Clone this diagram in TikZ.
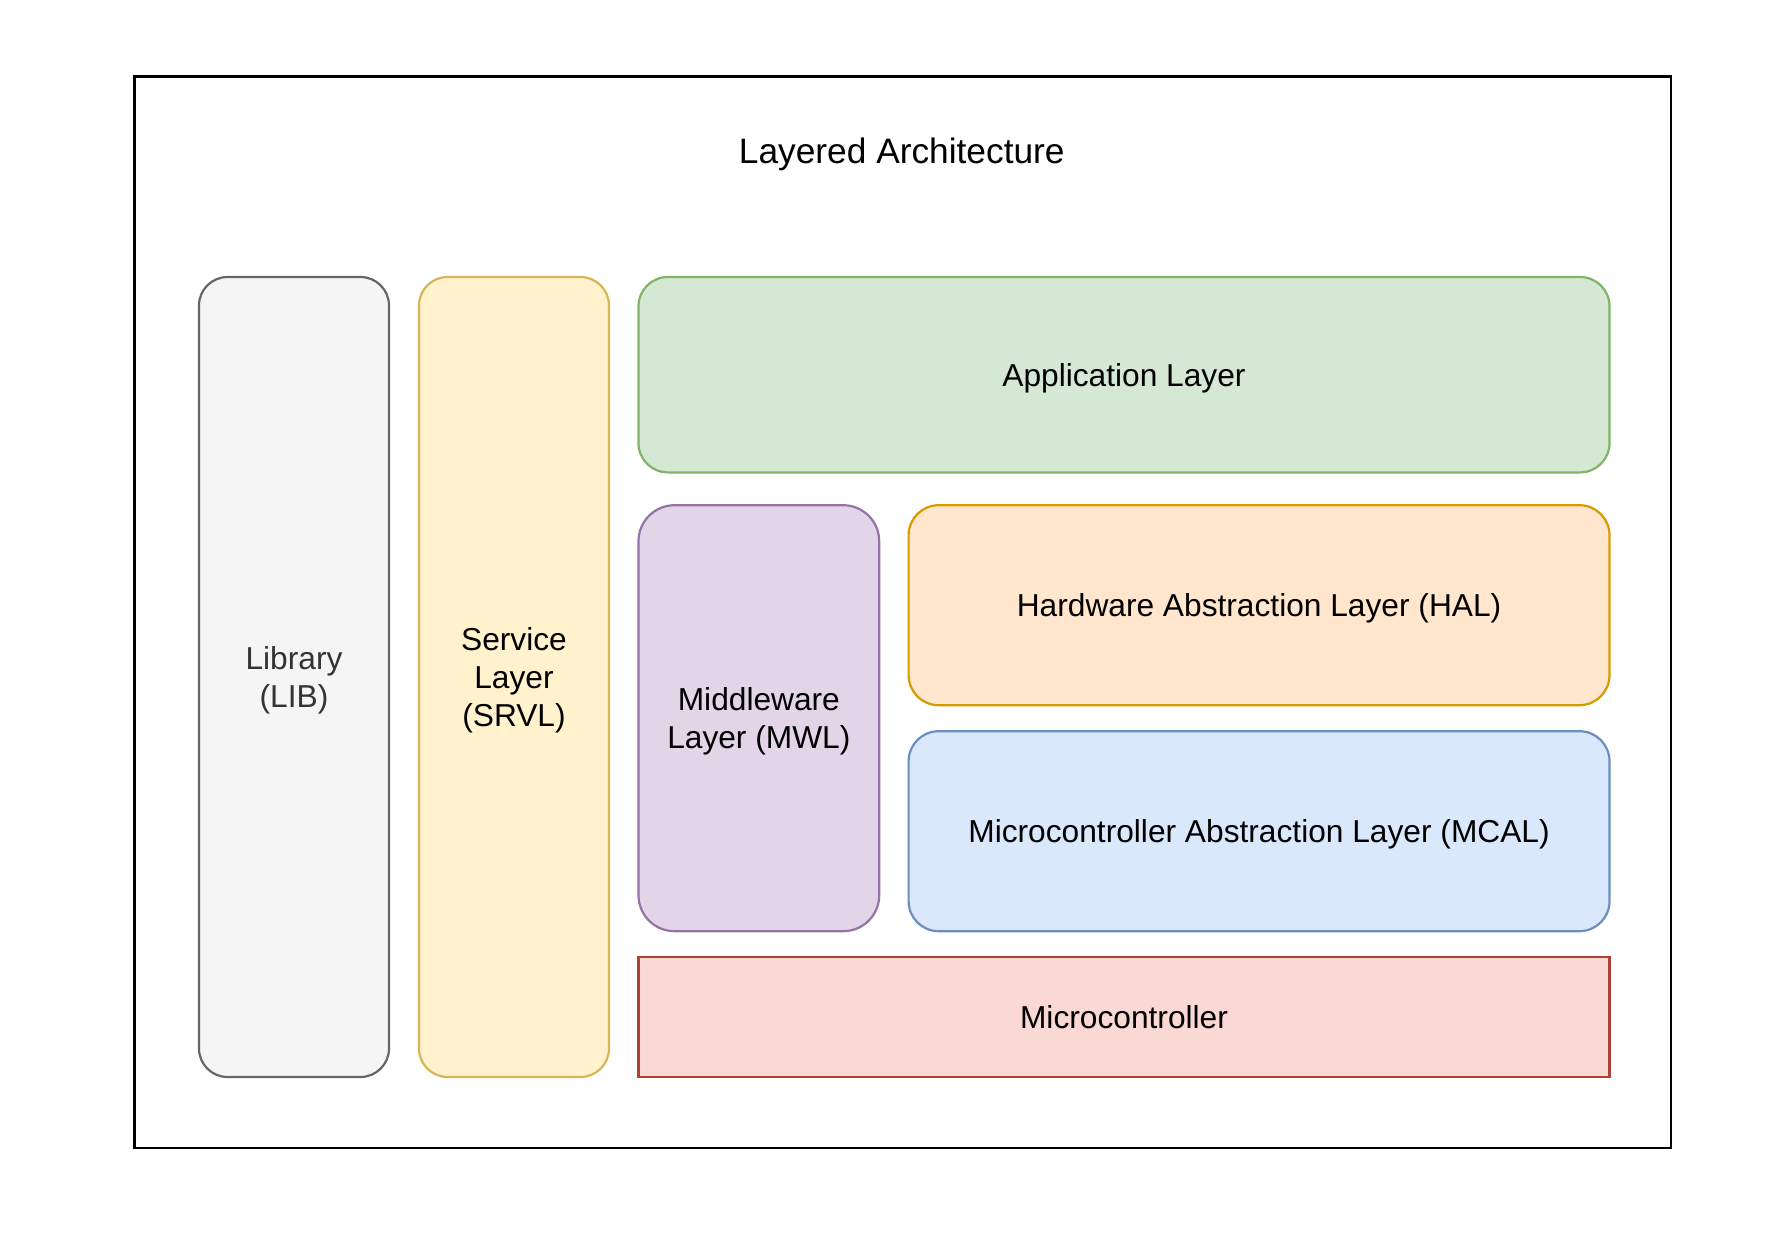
\documentclass[tikz,border=0pt]{standalone}
\usepackage{fontspec}
\setmainfont{Liberation Sans}
\definecolor{grayF}{HTML}{F5F5F5}\definecolor{grayD}{HTML}{666666}\definecolor{grayT}{HTML}{333333}
\definecolor{yelF}{HTML}{FFF2CC}\definecolor{yelD}{HTML}{D6B656}
\definecolor{grnF}{HTML}{D5E8D4}\definecolor{grnD}{HTML}{82B366}
\definecolor{purF}{HTML}{E1D5E7}\definecolor{purD}{HTML}{9673A6}
\definecolor{orgF}{HTML}{FFE6CC}\definecolor{orgD}{HTML}{D79B00}
\definecolor{bluF}{HTML}{DAE8FC}\definecolor{bluD}{HTML}{6C8EBF}
\definecolor{redF}{HTML}{FAD9D5}\definecolor{redD}{HTML}{AE4132}
\begin{document}
\begin{tikzpicture}[x=0.5pt,y=-0.5pt,
  layerbox/.style={draw, line width=1.1pt, inner sep=0pt, align=center,
    font=\fontsize{15.85}{19}\selectfont, text height=11.35pt, text depth=0pt},
  twolines/.style={text height=30.35pt},
  threelines/.style={text height=49.35pt}]
\useasboundingbox (0,0) rectangle (1772,1246);
\node[draw, line width=1.4pt, minimum width=768.15pt, minimum height=535.65pt, inner sep=0pt] (frame) at (902.85,612.35) {};
\node[font=\fontsize{17.65}{21.2}\selectfont, text height=12.64pt, text depth=0pt, inner sep=0pt] (title) at (901.8,150.8) {Layered Architecture};

\node[layerbox, twolines, fill=grayF, draw=grayD, text=grayT, rounded corners=14.25pt,
  minimum width=95pt, minimum height=400pt] (lib) at (294,677) {Library\\(LIB)};
\node[layerbox, threelines, fill=yelF, draw=yelD, rounded corners=14.25pt,
  minimum width=95pt, minimum height=400pt] (srvl) at (514,677) {Service\\Layer\\(SRVL)};
\node[layerbox, fill=grnF, draw=grnD, rounded corners=14.65pt,
  minimum width=485.5pt, minimum height=97.7pt] (app) at (1124,374.7) {Application Layer};
\node[layerbox, twolines, fill=purF, draw=purD, rounded corners=18pt,
  minimum width=120.35pt, minimum height=213pt] (mwl) at (758.85,718.2) {Middleware\\Layer (MWL)};
\node[layerbox, fill=orgF, draw=orgD, rounded corners=15pt,
  minimum width=350.45pt, minimum height=100pt] (hal) at (1259.05,605.2) {Hardware Abstraction Layer (HAL)};
\node[layerbox, fill=bluF, draw=bluD, rounded corners=15pt,
  minimum width=350.45pt, minimum height=100pt] (mcal) at (1259.05,831.2) {Microcontroller Abstraction Layer (MCAL)};
\node[layerbox, fill=redF, draw=redD,
  minimum width=485.5pt, minimum height=59.9pt] (mcu) at (1124,1017.1) {Microcontroller};
\end{tikzpicture}
\end{document}
